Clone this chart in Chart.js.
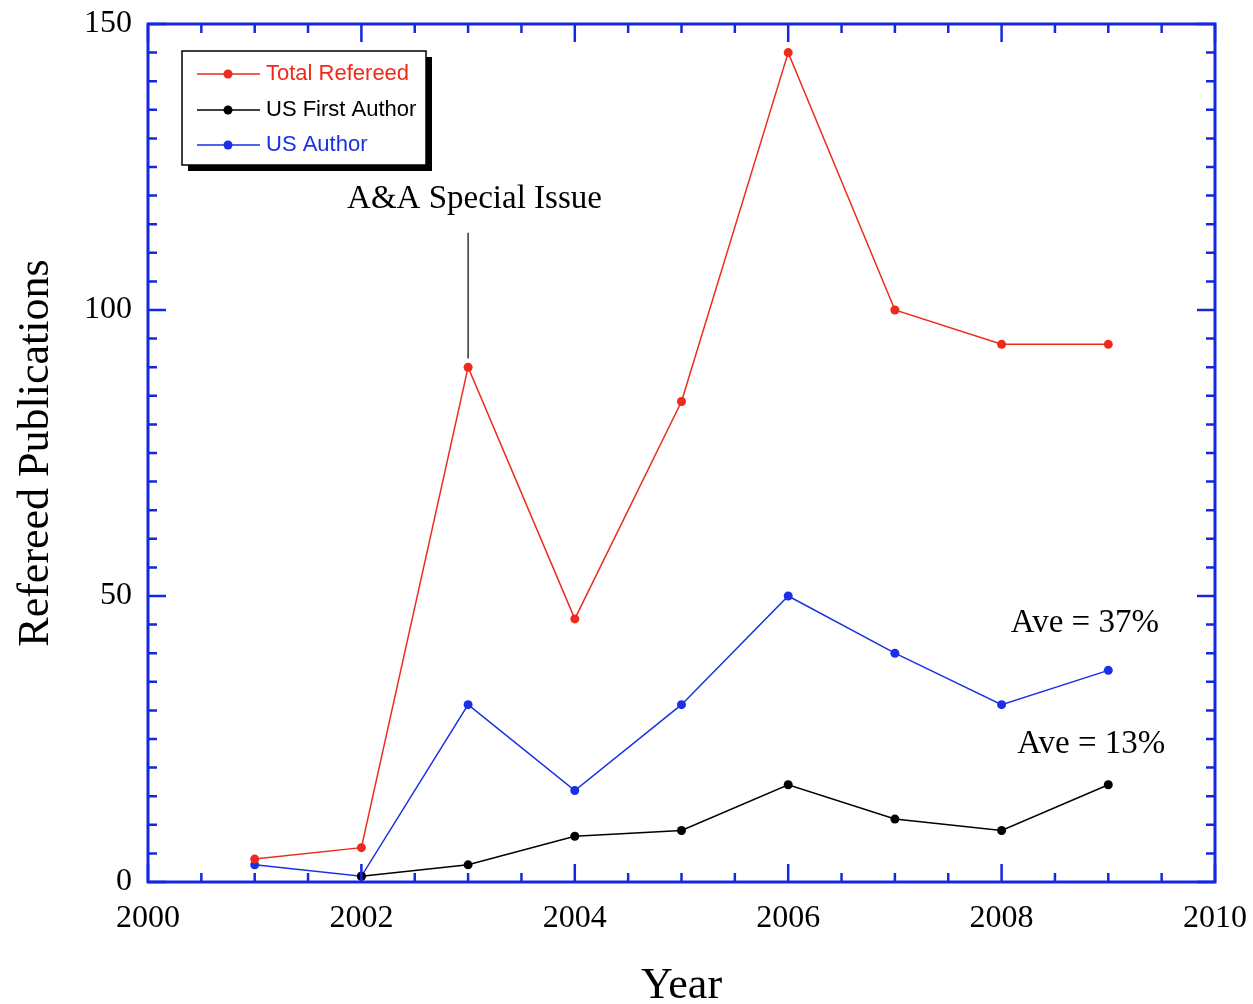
<!DOCTYPE html>
<html>
<head>
<meta charset="utf-8">
<script src="https://cdn.jsdelivr.net/npm/chart.js@4"></script>
<style>
  body { margin: 0; background: #fff; }
  #wrap { width: 1253px; height: 1004px; }
</style>
</head>
<body>
<div id="wrap"><canvas id="pubChart" width="1253" height="1004"></canvas></div>
<script>
const years = [2001, 2002, 2003, 2004, 2005, 2006, 2007, 2008, 2009];
const totalRefereed = [4, 6, 90, 46, 84, 145, 100, 94, 94];
const usFirstAuthor = [null, 1, 3, 8, 9, 17, 11, 9, 17];
const usAuthor = [3, 1, 31, 16, 31, 50, 40, 31, 37];
const xTicks = [2000, 2002, 2004, 2006, 2008, 2010];
const yTicks = [0, 50, 100, 150];

const RED = '#ee2a1c';
const BLUE = '#1a30e6';
const FRAME = '#1428e0';
const serif = '"Liberation Serif", "DejaVu Serif", serif';
const sans = '"Liberation Sans", Arial, sans-serif';

function toPoints(vals) {
  return years.map((y, i) => ({ x: y, y: vals[i] }));
}

// frame, inward ticks on all four sides, legend box and notes
const framePlugin = {
  id: 'frame',
  afterDraw(chart) {
    const ctx = chart.ctx;
    const a = chart.chartArea;
    const xs = chart.scales.x;
    const ys = chart.scales.y;
    ctx.save();
    ctx.strokeStyle = FRAME;
    ctx.lineWidth = 2.5;
    for (let v = 2000; v <= 2010; v += 0.5) {
      const px = xs.getPixelForValue(v);
      const len = xTicks.includes(v) ? 18 : 9;
      ctx.beginPath();
      ctx.moveTo(px, a.bottom); ctx.lineTo(px, a.bottom - len);
      ctx.moveTo(px, a.top); ctx.lineTo(px, a.top + len);
      ctx.stroke();
    }
    for (let v = 0; v <= 150; v += 5) {
      const py = ys.getPixelForValue(v);
      const len = yTicks.includes(v) ? 18 : 9;
      ctx.beginPath();
      ctx.moveTo(a.left, py); ctx.lineTo(a.left + len, py);
      ctx.moveTo(a.right, py); ctx.lineTo(a.right - len, py);
      ctx.stroke();
    }
    ctx.lineWidth = 3;
    ctx.strokeRect(a.left, a.top, a.right - a.left, a.bottom - a.top);

    // annotation line and texts
    ctx.strokeStyle = '#000';
    ctx.lineWidth = 1.2;
    const ax = xs.getPixelForValue(2003);
    ctx.beginPath();
    ctx.moveTo(ax, ys.getPixelForValue(113.5));
    ctx.lineTo(ax, ys.getPixelForValue(91.5));
    ctx.stroke();
    ctx.fillStyle = '#000';
    ctx.font = '33px ' + serif;
    ctx.textAlign = 'center';
    ctx.textBaseline = 'middle';
    ctx.fillText('A&A Special Issue', xs.getPixelForValue(2003.06), ys.getPixelForValue(119.3));
    ctx.fillText('Ave = 37%', xs.getPixelForValue(2008.78), ys.getPixelForValue(45.3));
    ctx.fillText('Ave = 13%', xs.getPixelForValue(2008.84), ys.getPixelForValue(24.1));

    // legend
    const bx = 182, by = 51, bw = 244, bh = 114;
    ctx.fillStyle = '#000';
    ctx.fillRect(bx + 6, by + 6, bw, bh);
    ctx.fillStyle = '#fff';
    ctx.fillRect(bx, by, bw, bh);
    ctx.strokeStyle = '#000';
    ctx.lineWidth = 1.5;
    ctx.strokeRect(bx, by, bw, bh);
    const items = chart.data.datasets;
    ctx.font = '22px ' + sans;
    ctx.textAlign = 'left';
    items.forEach((ds, i) => {
      const ry = [74, 110, 145][i];
      ctx.strokeStyle = ds.borderColor;
      ctx.lineWidth = 1.5;
      ctx.beginPath();
      ctx.moveTo(197, ry); ctx.lineTo(260, ry);
      ctx.stroke();
      ctx.fillStyle = ds.borderColor;
      ctx.beginPath();
      ctx.arc(228, ry, 4.5, 0, Math.PI * 2);
      ctx.fill();
      ctx.fillText(ds.label, 266, ry);
    });
    ctx.restore();
  }
};

new Chart(document.getElementById('pubChart'), {
  type: 'line',
  data: {
    datasets: [
      { label: 'Total Refereed', data: toPoints(totalRefereed), borderColor: RED, backgroundColor: RED },
      { label: 'US First Author', data: toPoints(usFirstAuthor), borderColor: '#000', backgroundColor: '#000' },
      { label: 'US Author', data: toPoints(usAuthor), borderColor: BLUE, backgroundColor: BLUE }
    ]
  },
  options: {
    responsive: false,
    animation: false,
    spanGaps: false,
    elements: {
      line: { borderWidth: 1.5, tension: 0 },
      point: { radius: 4.5, borderWidth: 0, hoverRadius: 4.5 }
    },
    layout: { padding: { top: 24, right: 38, left: 0, bottom: 0 } },
    plugins: { legend: { display: false }, tooltip: { enabled: false } },
    scales: {
      x: {
        type: 'linear', min: 2000, max: 2010,
        afterFit: s => { s.height = 122; s.paddingLeft = 0; s.paddingRight = 0; },
        afterBuildTicks: s => { s.ticks = xTicks.map(v => ({ value: v })); },
        grid: { display: false, drawTicks: false },
        border: { display: false },
        ticks: { padding: 17, color: '#000', font: { family: serif, size: 32 }, callback: v => String(v), maxRotation: 0 },
        title: { display: true, text: 'Year', color: '#000', font: { family: serif, size: 44, lineHeight: 1.0 }, padding: { top: 0, bottom: -4 } }
      },
      y: {
        min: 0, max: 150,
        afterFit: s => { s.width = 148; s.paddingTop = 0; s.paddingBottom = 0; },
        afterBuildTicks: s => { s.ticks = yTicks.map(v => ({ value: v })); },
        grid: { display: false, drawTicks: false },
        border: { display: false },
        ticks: { padding: 16, color: '#000', font: { family: serif, size: 32 } },
        title: { display: true, text: 'Refereed Publications', color: '#000', font: { family: serif, size: 44, lineHeight: 1.0 }, padding: { top: 14 } }
      }
    }
  },
  plugins: [framePlugin]
});
</script>
</body>
</html>
